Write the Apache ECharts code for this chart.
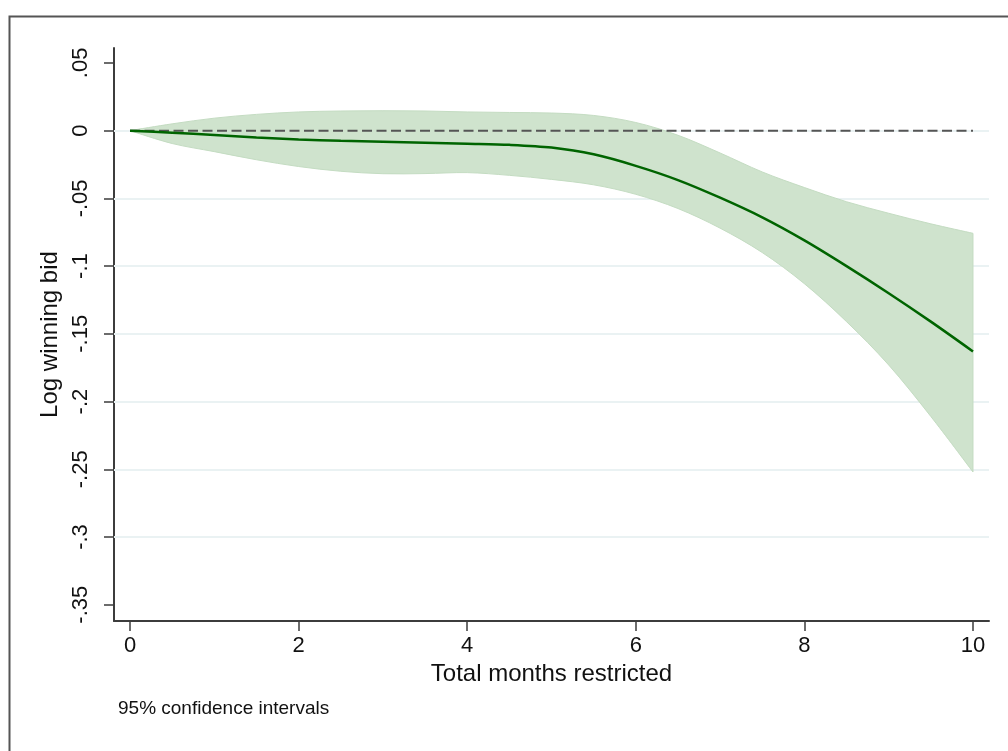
<!DOCTYPE html>
<html>
<head>
<meta charset="utf-8">
<script src="https://cdn.jsdelivr.net/npm/echarts@6/dist/echarts.min.js"></script>
<style>
  html, body { margin: 0; padding: 0; background: #fff; }
  #chart { width: 1008px; height: 751px; }
</style>
</head>
<body>
<div id="chart"></div>
<script>
// months restricted (x) and estimates
var months = [0, 0.5, 1, 1.5, 2, 2.5, 3, 3.5, 4, 4.5, 5, 5.5, 6, 6.5, 7, 7.5, 8, 8.5, 9, 9.5, 10];
var estimate = [0, -0.0015, -0.0032, -0.005, -0.0065, -0.0075, -0.0083, -0.009, -0.0097, -0.0105, -0.0125,
    -0.0175, -0.026, -0.0365, -0.0495, -0.064, -0.081, -0.1, -0.12, -0.141, -0.163];
var upperCI = [0, 0.005, 0.0092, 0.012, 0.0138, 0.0145, 0.0147, 0.0145, 0.0138, 0.0134, 0.013,
    0.0112, 0.006, -0.0034, -0.0165, -0.0305, -0.042, -0.0525, -0.061, -0.0688, -0.0758];
var lowerCI = [0, -0.0095, -0.0155, -0.0215, -0.0265, -0.03, -0.0318, -0.0317, -0.031, -0.033, -0.036,
    -0.04, -0.047, -0.0575, -0.072, -0.09, -0.113, -0.141, -0.173, -0.211, -0.252];

var xTicks = [0, 2, 4, 6, 8, 10];
var yTicks = [0.05, 0, -0.05, -0.1, -0.15, -0.2, -0.25, -0.3, -0.35];
var yTickLabels = ['.05', '0', '-.05', '-.1', '-.15', '-.2', '-.25', '-.3', '-.35'];
var gridValues = [0, -0.05, -0.1, -0.15, -0.2, -0.25, -0.3];
var refLine = [[0, 0], [10, 0]];

var font = '"Liberation Sans", Arial, sans-serif';
var axisColor = '#3c3c3c';

var estData = [];
for (var i = 0; i < months.length; i++) {
    estData.push([months[i], estimate[i]]);
}

var yLabelFmt = function (v) {
    for (var k = 0; k < yTicks.length; k++) {
        if (Math.abs(yTicks[k] - v) < 1e-9) return yTickLabels[k];
    }
    return '';
};

// smooth curve through pixel points (catmull-rom -> bezier), appended to path string
var curvePath = function (pts) {
    var d = '';
    for (var i = 0; i < pts.length - 1; i++) {
        var p0 = pts[Math.max(i - 1, 0)];
        var p1 = pts[i];
        var p2 = pts[i + 1];
        var p3 = pts[Math.min(i + 2, pts.length - 1)];
        var c1x = p1[0] + (p2[0] - p0[0]) / 6, c1y = p1[1] + (p2[1] - p0[1]) / 6;
        var c2x = p2[0] - (p3[0] - p1[0]) / 6, c2y = p2[1] - (p3[1] - p1[1]) / 6;
        d += ' C' + c1x + ' ' + c1y + ' ' + c2x + ' ' + c2y + ' ' + p2[0] + ' ' + p2[1];
    }
    return d;
};

var renderBand = function (params, api) {
    var up = [], lo = [];
    for (var i = 0; i < months.length; i++) {
        up.push(api.coord([months[i], upperCI[i]]));
        lo.push(api.coord([months[i], lowerCI[i]]));
    }
    lo.reverse();
    var d = 'M' + up[0][0] + ' ' + up[0][1] + curvePath(up) +
        ' L' + lo[0][0] + ' ' + lo[0][1] + curvePath(lo) + ' Z';
    return {
        type: 'path',
        shape: {pathData: d},
        style: {fill: '#cfe3cd', stroke: '#c4dcc2', lineWidth: 1}
    };
};

var chart = echarts.init(document.getElementById('chart'));
var option = {
    animation: false,
    backgroundColor: '#fff',
    textStyle: {fontFamily: font},
    grid: {left: 114, right: 19, top: 48, bottom: 130, containLabel: false, outerBoundsMode: 'none'},
    graphic: [
        {
            type: 'rect', left: 7, top: 14, silent: true,
            shape: {width: 1100, height: 800},
            style: {fill: 'none', stroke: '#555', lineWidth: 2}
        },
        {
            type: 'text', left: 118, top: 699,
            style: {text: '95% confidence intervals', font: '19px ' + font, fill: '#111'}
        }
    ],
    xAxis: {
        type: 'value',
        min: -0.19,
        max: 10.19,
        name: 'Total months restricted',
        nameLocation: 'middle',
        nameGap: 38,
        nameTextStyle: {fontSize: 24, color: '#111', fontFamily: font},
        axisLine: {show: true, onZero: false, lineStyle: {color: axisColor, width: 2}},
        axisTick: {show: true, length: 10, customValues: xTicks, lineStyle: {color: axisColor, width: 1.5}},
        axisLabel: {customValues: xTicks, fontSize: 22, color: '#111', margin: 14, fontFamily: font},
        splitLine: {show: false}
    },
    yAxis: {
        type: 'value',
        min: -0.362,
        max: 0.061,
        name: 'Log winning bid',
        nameLocation: 'middle',
        nameGap: 48,
        nameTextStyle: {fontSize: 24, color: '#111', fontFamily: font},
        axisLine: {show: true, onZero: false, lineStyle: {color: axisColor, width: 2}},
        axisTick: {show: true, length: 10, customValues: yTicks, lineStyle: {color: axisColor, width: 1.5}},
        axisLabel: {customValues: yTicks, rotate: 90, fontSize: 22, color: '#111', margin: 22,
            fontFamily: font, formatter: yLabelFmt},
        splitLine: {show: false}
    },
    series: [
        {
            name: 'grid',
            type: 'line',
            data: [],
            silent: true,
            z: 1,
            markLine: {
                silent: true,
                z: 1,
                symbol: ['none', 'none'],
                label: {show: false},
                lineStyle: {color: '#eaf2f3', width: 2, type: 'solid'},
                data: gridValues.map(function (v) { return {yAxis: v}; })
            }
        },
        {
            name: 'band',
            type: 'custom',
            renderItem: renderBand,
            data: [[0, 0]],
            silent: true,
            z: 2
        },
        {
            name: 'zero',
            type: 'line',
            data: refLine,
            symbol: 'none',
            z: 3,
            lineStyle: {color: '#555', width: 2, type: [10, 4.5]}
        },
        {
            name: 'estimate',
            type: 'line',
            data: estData,
            smooth: 0.3,
            symbol: 'none',
            z: 4,
            lineStyle: {color: '#006400', width: 2.5}
        }
    ]
};
chart.setOption(option);
</script>
</body>
</html>
